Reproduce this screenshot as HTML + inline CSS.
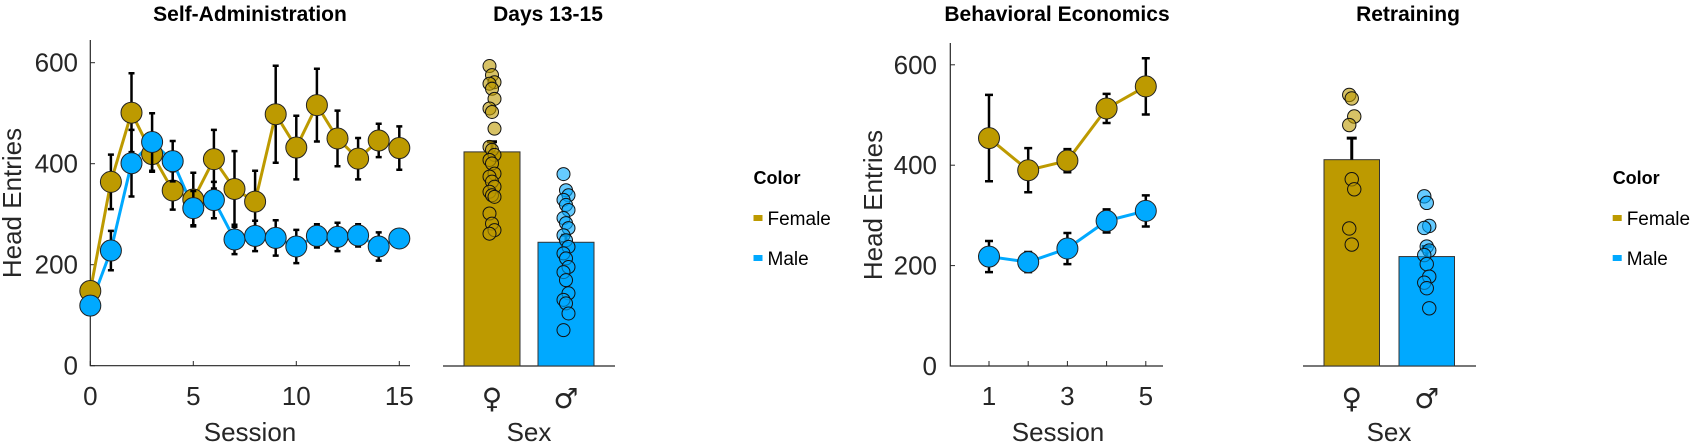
<!DOCTYPE html>
<html><head><meta charset="utf-8"><style>
html,body{margin:0;padding:0;background:#fff;}
svg{display:block;font-family:"Liberation Sans",Arial,sans-serif;}
</style></head><body>
<svg id="fig" width="1695" height="444" viewBox="0 0 1695 444" xmlns="http://www.w3.org/2000/svg">
<g id="root"></g>
</svg>
<script>
// ---- data ----
const saSessions = [0,1,2,3,4,5,6,7,8,9,10,11,12,13,14,15];
const saFemale = [148,364,501,419,347,329,409,350,325,498,432,516,450,410,446,431];
const saFemaleErr = [10,54,78,35,38,53,58,75,61,96,63,72,55,41,33,43];
const saMale = [119,228,401,443,405,312,328,250,257,253,236,257,255,258,236,252];
const saMaleErr = [10,39,66,57,40,34,36,29,30,35,33,23,28,22,28,10];
const yTicks = [0,200,400,600];
const saXTicks = [0,5,10,15];
const daysMeans = [424,245];
const daysErr = [20,14];
const daysFemalePts = [594,576,562,559,549,529,510,503,470,434,428,418,408,401,381,375,365,355,345,338,335,302,282,269,262];
const daysMalePts = [380,348,338,329,319,309,293,283,273,259,249,236,223,213,196,186,170,144,131,124,104,71];
const beSessions = [1,2,3,4,5];
const beFemale = [454,390,409,513,557];
const beFemaleErr = [86,44,23,29,56];
const beMale = [218,207,234,289,309];
const beMaleErr = [31,20,31,23,31];
const beXTicks = [1,3,5];
const rtMeans = [411,218];
const rtErr = [43,20];
const rtFemalePts = [540,533,497,480,372,352,274,242];
const rtMalePts = [338,325,279,275,238,230,221,203,178,166,155,115];

const GOLD="#BD9A00", BLUE="#00A9FF", AX="#262626";
const NS="http://www.w3.org/2000/svg";
const root=document.getElementById('root');
function el(tag,attrs,parent){const e=document.createElementNS(NS,tag);for(const k in attrs)e.setAttribute(k,attrs[k]);(parent||root).appendChild(e);return e;}
function txt(s,attrs,parent){const e=el('text',attrs,parent);e.textContent=s;return e;}

// ---- panel 1: Self-Administration ----
(function(){
  const g=el('g',{});
  
  
  const x=v=>90.3+v*20.6, y=v=>365.7-v*0.505;
  const ax=el('path',{d:`M90.3 40 V365.7 H410`,stroke:AX,'stroke-width':1.2,fill:'none'},g);
  
  yTicks.forEach(t=>{
    const l=el('line',{x1:90.3,x2:95,y1:y(t),y2:y(t),stroke:AX,'stroke-width':1},g);
    
    const tt=txt(String(t),{x:78,y:y(t)+9,'text-anchor':'end','font-size':26,fill:AX},g);
    
  });
  saXTicks.forEach(t=>{
    const l=el('line',{x1:x(t),x2:x(t),y1:365.7,y2:361,stroke:AX,'stroke-width':1},g);
    
    const tt=txt(String(t),{x:x(t),y:405,'text-anchor':'middle','font-size':26,fill:AX},g);
    
  });
  const series=[[saFemale,saFemaleErr,GOLD,'female'],[saMale,saMaleErr,BLUE,'male']];
  series.forEach(([vals,errs,col,nm])=>{
    const ln=el('polyline',{points:vals.map((v,i)=>x(saSessions[i])+','+y(v)).join(' '),fill:'none',stroke:col,'stroke-width':3},g);
    
  });
  series.forEach(([vals,errs,col,nm])=>{
    vals.forEach((v,i)=>{
      const cx=x(saSessions[i]);
      const e=el('path',{d:`M${cx} ${y(v+errs[i])} V${y(v-errs[i])} M${cx-3} ${y(v+errs[i])} H${cx+3} M${cx-3} ${y(v-errs[i])} H${cx+3}`,stroke:'#000','stroke-width':2.5,fill:'none'},g);
      
    });
    vals.forEach((v,i)=>{
      const c=el('circle',{cx:x(saSessions[i]),cy:y(v),r:10.5,fill:col,stroke:'#222','stroke-width':1},g);
      
    });
  });
  const t1=txt('Self-Administration',{x:250,y:21,'text-anchor':'middle','font-size':21,'font-weight':'bold',fill:'#000'},g);
  
  const t2=txt('Session',{x:250,y:441,'text-anchor':'middle','font-size':26,fill:AX},g);
  
  const t3=txt('Head Entries',{x:0,y:0,transform:'translate(21,203) rotate(-90)','text-anchor':'middle','font-size':26,fill:AX},g);
  
})();

// ---- bar panel helper ----
function barPanel(name,opt,means,errs,fPts,mPts){
  const g=el('g',{});
  
  
  const y=v=>opt.base-v*opt.k;
  const ax=el('line',{x1:opt.ax0,x2:opt.ax1,y1:opt.base,y2:opt.base,stroke:AX,'stroke-width':1.2},g);
  
  const cols=[GOLD,BLUE], pts=[fPts,mPts], nms=['female','male'];
  means.forEach((m,i)=>{
    const b=el('rect',{x:opt.bx[i],y:y(m),width:opt.bw,height:opt.base-y(m),fill:cols[i],stroke:'#333','stroke-width':1},g);
    
    const cx=opt.bx[i]+opt.bw/2;
    const e=el('path',{d:`M${cx} ${y(m)} V${y(m+errs[i])} M${cx-5} ${y(m+errs[i])} H${cx+5}`,stroke:'#000','stroke-width':3,fill:'none'},g);
    
  });
  means.forEach((m,i)=>{
    const cx=opt.bx[i]+opt.bw/2;
    pts[i].forEach((v,j)=>{
      const c=el('circle',{cx:cx+((j%3)-1)*2.5,cy:y(v),r:opt.r,fill:cols[i],'fill-opacity':0.6,stroke:'#111','stroke-width':1},g);
      
    });
    const s=txt(i===0?'♀':'♂',{x:cx,y:408,'text-anchor':'middle','font-family':'"DejaVu Sans",sans-serif','font-size':28,fill:AX},g);
    
  });
  const t=txt(opt.title,{x:opt.tx,y:21,'text-anchor':'middle','font-size':21,'font-weight':'bold',fill:'#000'},g);
  
  const s2=txt('Sex',{x:opt.sx,y:441,'text-anchor':'middle','font-size':26,fill:AX},g);
  
}
barPanel('days13-15',{base:366,k:0.505,ax0:443,ax1:615,bx:[464,538],bw:56,r:6.5,title:'Days 13-15',tx:548,sx:529},daysMeans,daysErr,daysFemalePts,daysMalePts);
barPanel('retraining',{base:366,k:0.502,ax0:1303,ax1:1476,bx:[1324,1399],bw:55.5,r:6.7,title:'Retraining',tx:1408,sx:1389},rtMeans,rtErr,rtFemalePts,rtMalePts);

// ---- panel 3: Behavioral Economics ----
(function(){
  const g=el('g',{});
  
  
  const x=v=>989+(v-1)*39.2, y=v=>366-v*0.502;
  const ax=el('path',{d:`M950.3 43 V366 H1163`,stroke:AX,'stroke-width':1.2,fill:'none'},g);
  
  yTicks.forEach(t=>{
    const l=el('line',{x1:950.3,x2:955,y1:y(t),y2:y(t),stroke:AX,'stroke-width':1},g);
    
    const tt=txt(String(t),{x:937,y:y(t)+9,'text-anchor':'end','font-size':26,fill:AX},g);
    
  });
  beSessions.forEach(t=>{
    const l=el('line',{x1:x(t),x2:x(t),y1:366,y2:361,stroke:AX,'stroke-width':1},g);
    
  });
  beXTicks.forEach(t=>{
    const tt=txt(String(t),{x:x(t),y:405,'text-anchor':'middle','font-size':26,fill:AX},g);
    
  });
  const series=[[beFemale,beFemaleErr,GOLD,'female'],[beMale,beMaleErr,BLUE,'male']];
  series.forEach(([vals,errs,col,nm])=>{
    const ln=el('polyline',{points:vals.map((v,i)=>x(beSessions[i])+','+y(v)).join(' '),fill:'none',stroke:col,'stroke-width':3},g);
    
    vals.forEach((v,i)=>{
      const cx=x(beSessions[i]);
      const e=el('path',{d:`M${cx} ${y(v+errs[i])} V${y(v-errs[i])} M${cx-4} ${y(v+errs[i])} H${cx+4} M${cx-4} ${y(v-errs[i])} H${cx+4}`,stroke:'#000','stroke-width':2.5,fill:'none'},g);
      
    });
    vals.forEach((v,i)=>{
      const c=el('circle',{cx:x(beSessions[i]),cy:y(v),r:10.5,fill:col,stroke:'#222','stroke-width':1},g);
      
    });
  });
  const t1=txt('Behavioral Economics',{x:1057,y:21,'text-anchor':'middle','font-size':21,'font-weight':'bold',fill:'#000'},g);
  
  const t2=txt('Session',{x:1058,y:441,'text-anchor':'middle','font-size':26,fill:AX},g);
  
  const t3=txt('Head Entries',{x:0,y:0,transform:'translate(882,205) rotate(-90)','text-anchor':'middle','font-size':26,fill:AX},g);
  
})();

// ---- legends ----
function legend(name,x0){
  const g=el('g',{});
  
  
  const t=txt('Color',{x:x0,y:184,'font-size':18,'font-weight':'bold',fill:'#000'},g);
  
  [['Female',GOLD,218],['Male',BLUE,258]].forEach(([lab,col,cy])=>{
    const r=el('rect',{x:x0,y:cy-3,width:9,height:6,fill:col},g);
    
    const tt=txt(lab,{x:x0+14,y:cy+7,'font-size':19,fill:'#000'},g);
    
  });
}
legend('legend-left',753.5);
legend('legend-right',1612.7);
</script>
</body></html>
